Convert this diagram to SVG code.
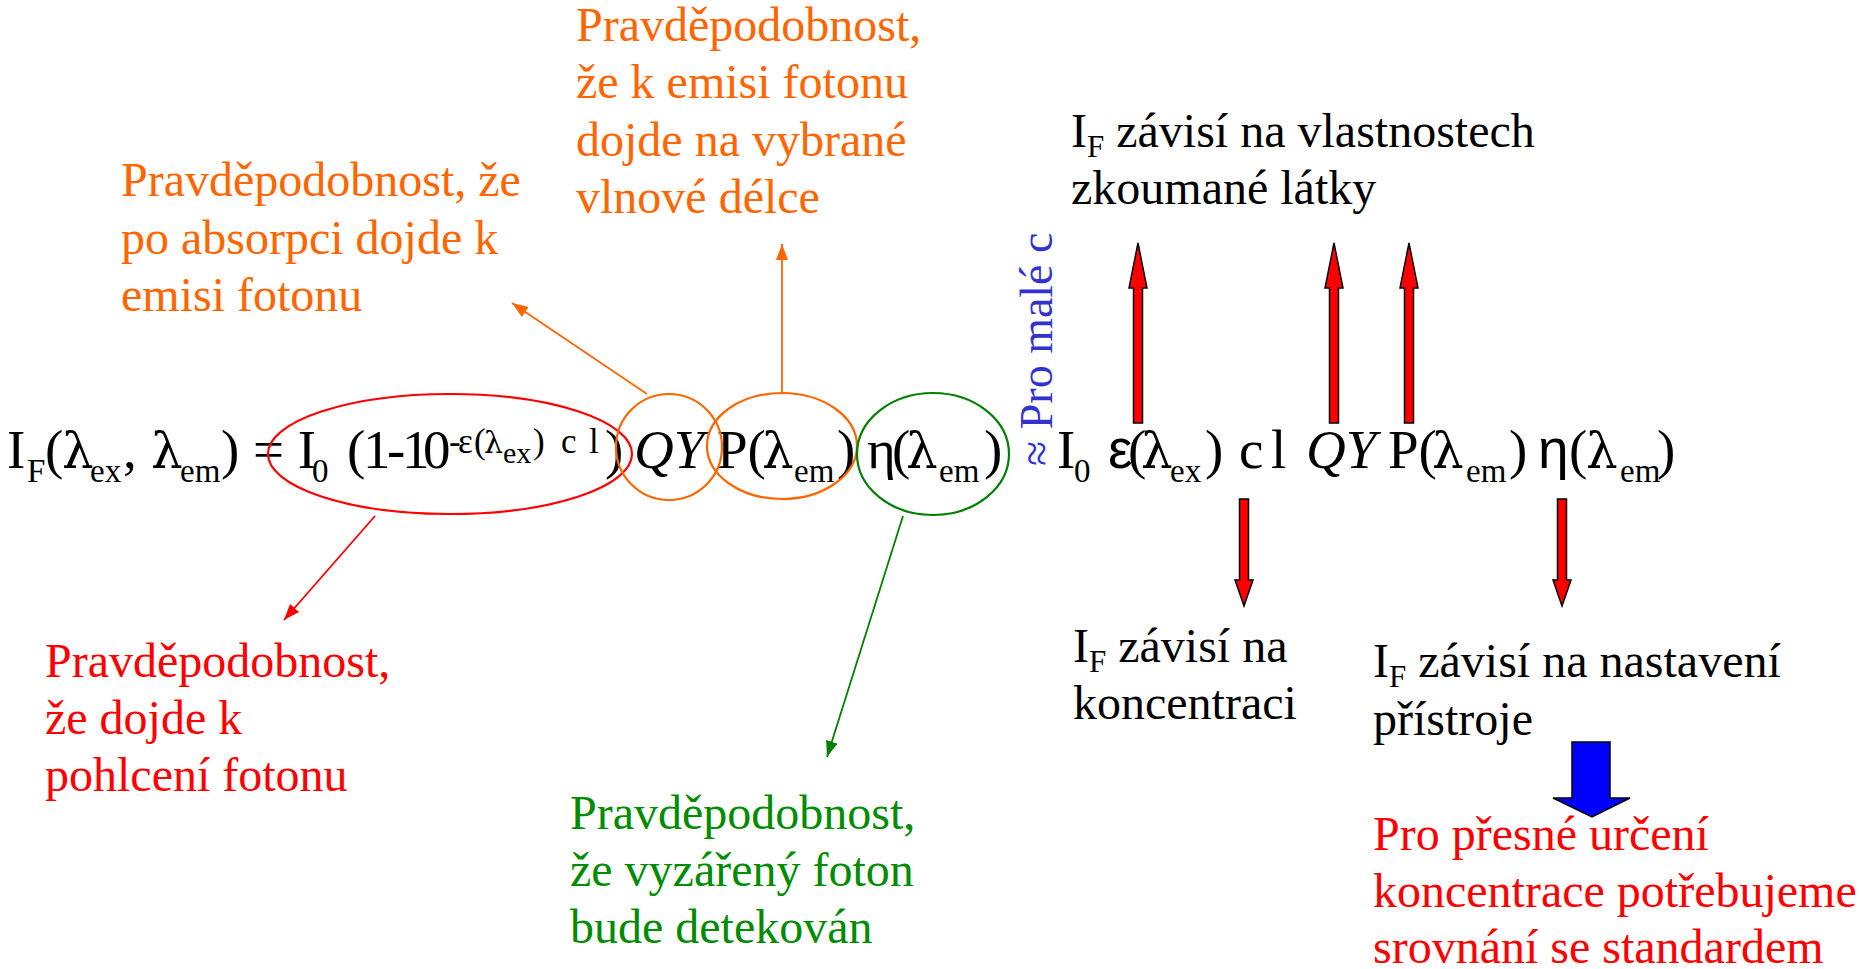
<svg xmlns="http://www.w3.org/2000/svg" width="1859" height="969" viewBox="0 0 1859 969">
  <style>
    text { font-family: "Liberation Serif", "Times New Roman", serif; }
    .eq { font-size: 55px; fill: #000; }
    .sub { font-size: 33px; }
    .sup { font-size: 35px; }
    .supsub { font-size: 30px; }
    .lam { font-family: "DejaVu Serif", "Liberation Serif", serif; font-size: 50px; }
    .lamsup { font-family: "DejaVu Serif", "Liberation Serif", serif; font-size: 30px; }
    .sans { font-family: "Liberation Sans", Arial, sans-serif; }
    .lbl { font-size: 48px; }
    .fs { font-size: 31px; }
    .orange { fill: #ff6600; }
    .red { fill: #ff0000; }
    .green { fill: #008c00; }
    .black { fill: #000000; }
    .blue { fill: #3333cc; }
    .ring { fill: none; stroke-width: 2.2; }
    .line { fill: none; stroke-width: 1.8; }
    .block { stroke: #000; stroke-width: 1.5; stroke-linejoin: miter; }
  </style>
  <defs>
    <marker id="ah-orange" markerUnits="userSpaceOnUse" markerWidth="16" markerHeight="12" refX="16" refY="6" orient="auto">
      <path d="M0,0 L16,6 L0,12 z" fill="#ff6600"/>
    </marker>
    <marker id="ah-red" markerUnits="userSpaceOnUse" markerWidth="16" markerHeight="12" refX="16" refY="6" orient="auto">
      <path d="M0,0 L16,6 L0,12 z" fill="#ff0000"/>
    </marker>
    <marker id="ah-green" markerUnits="userSpaceOnUse" markerWidth="16" markerHeight="12" refX="16" refY="6" orient="auto">
      <path d="M0,0 L16,6 L0,12 z" fill="#008000"/>
    </marker>
  </defs>
  <rect x="0" y="0" width="1859" height="969" fill="#ffffff"/>

  <!-- full fluorescence intensity expression -->
  <g id="eq-full">
    <text class="eq" y="468">
      <tspan x="7">I</tspan><tspan class="sub" x="27" dy="14">F</tspan><tspan x="45" dy="-14">(</tspan><tspan class="lam" x="62">λ</tspan><tspan class="sub" x="90" dy="14">ex</tspan><tspan x="123" dy="-14">,</tspan><tspan class="lam" x="151">λ</tspan><tspan class="sub" x="180" dy="14">em</tspan><tspan x="221" dy="-14">) = I</tspan><tspan class="sub" x="312" dy="14">0</tspan><tspan x="347" dy="-14">(</tspan><tspan x="363 387 402 423">1-10</tspan><tspan class="sup" x="449" dy="-15">-</tspan><tspan class="sup" x="458">ε</tspan><tspan class="sup" x="474">(</tspan><tspan class="lamsup" x="484">λ</tspan><tspan class="supsub" x="503" dy="10">ex</tspan><tspan class="sup" x="533" dy="-10">)</tspan><tspan class="sup" x="561">c</tspan><tspan class="sup" x="589">l</tspan><tspan x="605" dy="15">)</tspan>
    </text>
    <text class="eq" y="468"><tspan x="634" font-style="italic">QY</tspan></text>
    <text class="eq" y="468"><tspan x="717">P(</tspan><tspan class="lam" x="762">λ</tspan><tspan class="sub" x="794" dy="14">em</tspan><tspan x="837" dy="-14">)</tspan></text>
    <text class="eq" y="468"><tspan x="867">η</tspan><tspan x="892">(</tspan><tspan class="lam" x="906">λ</tspan><tspan class="sub" x="939" dy="14">em</tspan><tspan x="984" dy="-14">)</tspan></text>
  </g>

  <!-- highlighted factors -->
  <g id="ring-absorption"><ellipse class="ring" cx="450" cy="454" rx="182" ry="60" stroke="#ff0000"/></g>
  <g id="ring-qy"><ellipse class="ring" cx="669" cy="447" rx="53" ry="53" stroke="#ff6600"/></g>
  <g id="ring-p"><ellipse class="ring" cx="782" cy="446" rx="75" ry="53" stroke="#ff6600"/></g>
  <g id="ring-eta"><ellipse class="ring" cx="933" cy="454" rx="76" ry="61" stroke="#008000"/></g>

  <!-- low-concentration approximation -->
  <g id="approx-note">
    <text class="blue" font-size="46" transform="translate(1052,466) rotate(-90)">≈ Pro malé c</text>
  </g>
  <g id="eq-linear">
    <text class="eq" y="468">
      <tspan x="1057">I</tspan><tspan class="sub" x="1074" dy="14">0</tspan><tspan class="sans" x="1108" dy="-14">ε</tspan><tspan x="1128">(</tspan><tspan class="lam" x="1141">λ</tspan><tspan class="sub" x="1170" dy="14">ex</tspan><tspan x="1205" dy="-14">)</tspan><tspan x="1239">c</tspan><tspan x="1271">l</tspan><tspan x="1306" font-style="italic">QY</tspan><tspan x="1388">P(</tspan><tspan class="lam" x="1432">λ</tspan><tspan class="sub" x="1466" dy="14">em</tspan><tspan x="1509" dy="-14">)</tspan><tspan class="sans" x="1538">η</tspan><tspan x="1569">(</tspan><tspan class="lam" x="1586">λ</tspan><tspan class="sub" x="1620" dy="14">em</tspan><tspan x="1657" dy="-14">)</tspan>
    </text>
  </g>

  <!-- annotation labels -->
  <g id="label-qy">
    <text class="lbl orange" x="121"><tspan y="196">Pravděpodobnost, že</tspan><tspan x="121" y="254">po absorpci dojde k</tspan><tspan x="121" y="311">emisi fotonu</tspan></text>
  </g>
  <g id="label-p">
    <text class="lbl orange" x="576"><tspan y="41">Pravděpodobnost,</tspan><tspan x="576" y="98">že k emisi fotonu</tspan><tspan x="576" y="156">dojde na vybrané</tspan><tspan x="576" y="213">vlnové délce</tspan></text>
  </g>
  <g id="label-absorption">
    <text class="lbl red" x="45"><tspan y="677">Pravděpodobnost,</tspan><tspan x="45" y="734">že dojde k</tspan><tspan x="45" y="791">pohlcení fotonu</tspan></text>
  </g>
  <g id="label-eta">
    <text class="lbl green" x="570"><tspan y="829">Pravděpodobnost,</tspan><tspan x="570" y="886">že vyzářený foton</tspan><tspan x="570" y="943">bude detekován</tspan></text>
  </g>
  <g id="label-substance">
    <text class="lbl black" x="1071"><tspan y="147">I</tspan><tspan class="fs" dy="10">F</tspan><tspan dy="-10"> závisí na vlastnostech</tspan><tspan x="1071" y="204">zkoumané látky</tspan></text>
  </g>
  <g id="label-concentration">
    <text class="lbl black" x="1073"><tspan y="662">I</tspan><tspan class="fs" dy="10">F</tspan><tspan dy="-10"> závisí na</tspan><tspan x="1073" y="719">koncentraci</tspan></text>
  </g>
  <g id="label-instrument">
    <text class="lbl black" x="1373"><tspan y="677">I</tspan><tspan class="fs" dy="10">F</tspan><tspan dy="-10"> závisí na nastavení</tspan><tspan x="1373" y="735">přístroje</tspan></text>
  </g>
  <g id="label-standard">
    <text class="lbl red" x="1373"><tspan y="850">Pro přesné určení</tspan><tspan x="1373" y="907">koncentrace potřebujeme</tspan><tspan x="1373" y="963">srovnání se standardem</tspan></text>
  </g>

  <!-- connectors -->
  <g id="connectors">
    <line class="line" x1="647" y1="394" x2="512" y2="303" stroke="#ff6600" marker-end="url(#ah-orange)"/>
    <line class="line" x1="782" y1="394" x2="782" y2="244" stroke="#ff6600" marker-end="url(#ah-orange)"/>
    <line class="line" x1="375" y1="516" x2="284" y2="620" stroke="#ff0000" marker-end="url(#ah-red)"/>
    <line class="line" x1="903" y1="516" x2="827" y2="757" stroke="#008000" marker-end="url(#ah-green)"/>

    <!-- block arrows up to the substance label -->
    <polygon class="block" fill="#ff0000" points="1133.5,423 1133.5,288 1129,288 1138,243 1147,288 1142.5,288 1142.5,423"/>
    <polygon class="block" fill="#ff0000" points="1329.5,423 1329.5,288 1325,288 1334,243 1343,288 1338.5,288 1338.5,423"/>
    <polygon class="block" fill="#ff0000" points="1404.5,423 1404.5,288 1400,288 1409,243 1418,288 1413.5,288 1413.5,423"/>

    <!-- block arrows down to concentration and instrument labels -->
    <polygon class="block" fill="#ff0000" points="1239.5,499 1248.5,499 1248.5,580 1253,580 1244,606 1235,580 1239.5,580"/>
    <polygon class="block" fill="#ff0000" points="1557.5,499 1566.5,499 1566.5,580 1571,580 1562,606 1553,580 1557.5,580"/>

    <!-- consequence arrow -->
    <polygon class="block" fill="#0000ff" points="1572,742 1610,742 1610,798 1630,798 1592,817 1553,798 1572,798"/>
  </g>
</svg>
